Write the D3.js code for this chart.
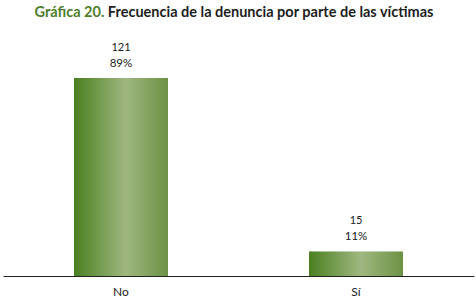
<!DOCTYPE html>
<html>
<head>
<meta charset="utf-8">
<script src="https://cdn.jsdelivr.net/npm/d3@7"></script>
<style>
  body { margin:0; background:#fff; }
  svg text { font-family: Lato, "Open Sans", sans-serif; }
</style>
</head>
<body>
<svg id="chart" width="476" height="301"></svg>
<script>
/* ----- data ------------------------------------------------- */
const categories = ['No', 'Sí'];
const counts     = [121, 15];
const percents   = ['89%', '11%'];

/* ----- SVG setup -------------------------------------------- */
const svg = d3.select('#chart'),
      baseY = 276;

/* title */
const title = svg.append('text')
  .attr('x', 234).attr('y', 17)
  .attr('text-anchor', 'middle')
  .style('font-size', '14.5px').style('font-weight', 'bold');
title.append('tspan').attr('fill', '#4e7d2b').text('Gráfica 20. ');
title.append('tspan').attr('fill', '#1e1e1e').text('Frecuencia de la denuncia por parte de las víctimas');

/* gradient */
const grad = svg.append('defs').append('linearGradient')
  .attr('id', 'barGrad').attr('x1', '0%').attr('x2', '100%');
grad.append('stop').attr('offset', '0%').attr('stop-color', '#4a8020');
grad.append('stop').attr('offset', '55%').attr('stop-color', '#9fb780');
grad.append('stop').attr('offset', '100%').attr('stop-color', '#6c9244');

/* ----- scales ------------------------------------------------ */
const x = d3.scaleBand().domain(categories).range([3, 474]).paddingInner(0.6).paddingOuter(0.302);
const y = d3.scaleLinear().domain([0, 121]).range([baseY, 78]);

/* bars */
svg.selectAll('.bar').data(categories).join('rect')
  .attr('class', 'bar')
  .attr('x', d => x(d))
  .attr('width', x.bandwidth())
  .attr('y', (d, i) => y(counts[i]))
  .attr('height', (d, i) => baseY - y(counts[i]))
  .attr('fill', 'url(#barGrad)');

/* axis */
const axis = svg.append('g')
  .attr('transform', `translate(0,${baseY})`)
  .call(d3.axisBottom(x).tickSize(0).tickPadding(11));
axis.select('.domain').attr('stroke', '#222').attr('stroke-width', 1.2);
axis.selectAll('text').style('font-size', '12px').attr('fill', '#222')
  .style('font-family', 'Lato, "Open Sans", sans-serif');

/* value labels */
const lab = svg.selectAll('.lab').data(categories).join('g')
  .attr('class', 'lab')
  .attr('transform', (d, i) => `translate(${x(d) + x.bandwidth() / 2},${y(counts[i])})`);
lab.append('text').attr('y', -27).attr('text-anchor', 'middle')
  .style('font-size', '11px').attr('fill', '#222')
  .text((d, i) => counts[i]);
lab.append('text').attr('y', -11).attr('text-anchor', 'middle')
  .style('font-size', '11.5px').attr('fill', '#222')
  .text((d, i) => percents[i]);
</script>
</body>
</html>
